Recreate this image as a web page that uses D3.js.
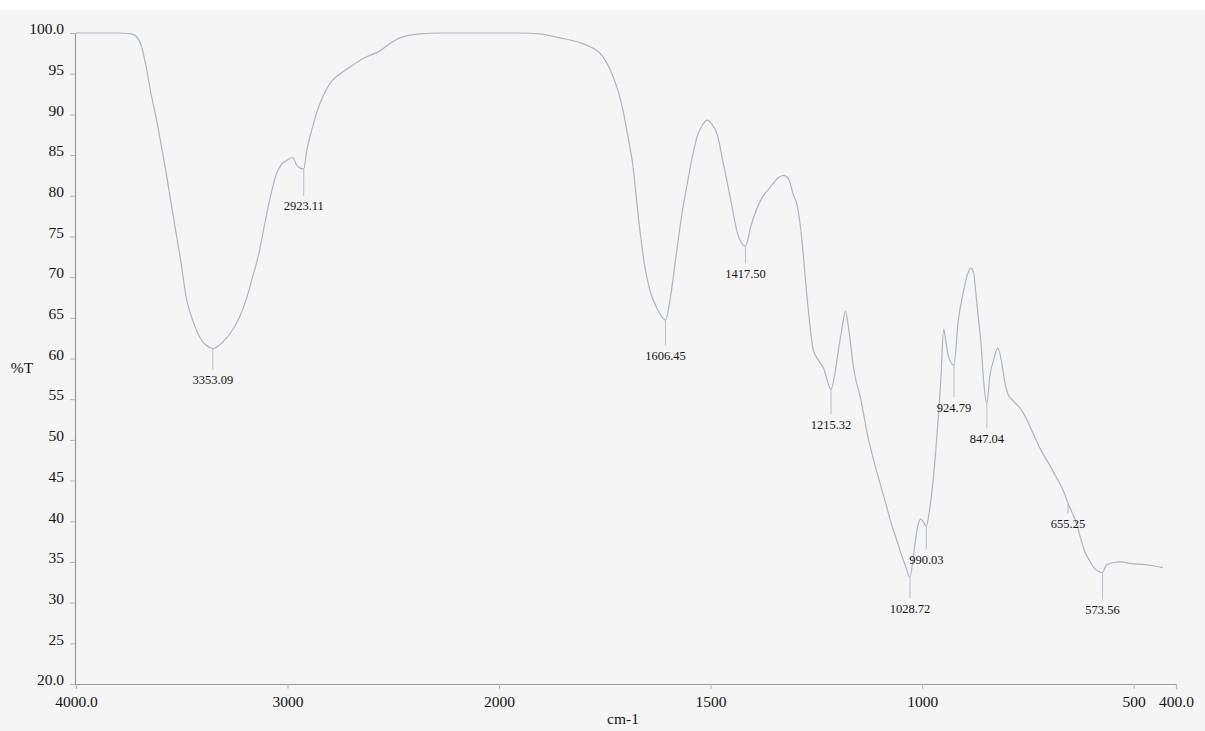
<!DOCTYPE html>
<html>
<head>
<meta charset="utf-8">
<script src="https://cdn.jsdelivr.net/npm/d3@7"></script>
<style>
  html, body { margin: 0; padding: 0; background: #ffffff; }
  svg { display: block; }
  text { font-family: "Liberation Serif", "Times New Roman", serif; fill: #141414; }
</style>
</head>
<body>
<svg id="chart" width="1205" height="731"></svg>
<script>
// IR transmittance spectrum: wavenumber (cm-1) against %T
const wavenumber = [
  4000, 3800, 3740, 3716, 3692, 3668, 3645, 3621, 3597, 3573, 3550, 3526, 3500, 3479, 3455, 3431,
  3400, 3370, 3353.09, 3320, 3289, 3258, 3228, 3196, 3166, 3133, 3108, 3085, 3052, 3030, 3005, 2976,
  2957, 2940, 2923.11, 2910, 2882, 2858, 2834, 2787, 2750, 2706, 2640, 2564, 2510, 2469, 2375, 2280,
  2100, 2000, 1950, 1903, 1856, 1808, 1780, 1761, 1745, 1730, 1718, 1707, 1695, 1683, 1675, 1666,
  1655, 1643, 1625, 1606.45, 1595, 1579, 1567, 1555, 1543, 1531, 1519, 1508, 1497, 1484, 1472, 1460,
  1448, 1437, 1427, 1417.50, 1405, 1382, 1360, 1340, 1328, 1315, 1305, 1294, 1285, 1271, 1257, 1245,
  1233, 1215.32, 1205, 1198, 1190, 1181, 1172, 1162, 1145, 1129, 1113, 1098, 1085, 1074, 1062, 1051,
  1040, 1028.72, 1020, 1010, 1003, 996, 990.03, 983, 975, 968, 960, 956, 949, 945, 938, 924.79,
  915, 902, 893, 885, 878, 873, 866, 861, 855, 847.04, 840, 830, 821, 812, 805, 797,
  785, 767, 750, 736, 720, 703, 685, 665, 655.25, 645, 636, 627, 617, 605, 594, 585,
  573.56, 565, 550, 530, 506, 480, 450, 431
];
const transmittance = [
  100, 100, 99.9, 99.6, 98.5, 95.8, 92.5, 89.6, 86.2, 82.7, 79.0, 75.3, 71.2, 67.5, 65.2, 63.5,
  62.0, 61.4, 61.2, 61.7, 62.5, 63.6, 65.0, 67.2, 69.9, 73.2, 76.5, 79.4, 82.7, 83.8, 84.3, 84.7,
  83.8, 83.4, 83.3, 85.4, 88.4, 90.5, 92.1, 94.2, 95.0, 95.8, 96.9, 97.8, 98.8, 99.4, 99.9, 100,
  100, 100, 100, 99.9, 99.4, 98.8, 98.2, 97.5, 96.3, 94.6, 92.8, 90.5, 87.2, 83.5, 79.5, 75.3,
  71.2, 68.3, 66.0, 64.7, 67.5, 73.6, 78.0, 81.5, 84.8, 87.4, 88.7, 89.3, 88.8, 87.5, 84.5, 81.5,
  78.3, 75.5, 74.2, 73.8, 76.2, 79.4, 81.0, 82.2, 82.5, 82.0, 80.2, 78.5, 75.0, 67.0, 61.0, 59.8,
  58.8, 56.2, 58.5, 61.0, 63.5, 65.8, 63.0, 58.8, 55.0, 50.6, 47.2, 44.4, 42.0, 39.9, 38.0, 36.2,
  34.6, 33.1, 36.0, 39.5, 40.3, 39.8, 39.4, 41.2, 44.5, 48.5, 54.0, 57.2, 63.6, 62.5, 60.3, 59.2,
  64.5, 68.3, 70.3, 71.1, 70.5, 68.0, 64.5, 62.0, 57.5, 54.5, 57.8, 60.0, 61.3, 59.5, 57.2, 55.6,
  54.8, 53.8, 52.2, 50.6, 48.8, 47.3, 45.6, 43.6, 42.2, 41.0, 39.9, 38.2, 36.5, 35.2, 34.3, 33.9,
  33.7, 34.6, 34.9, 35.0, 34.8, 34.7, 34.5, 34.3
];

// Annotated band positions (cm-1) and their printed labels
const peakWavenumber = [3353.09, 2923.11, 1606.45, 1417.50, 1215.32, 924.79, 847.04, 990.03, 1028.72, 655.25, 573.56];
const peakLabel = ["3353.09", "2923.11", "1606.45", "1417.50", "1215.32", "924.79", "847.04", "990.03", "1028.72", "655.25", "573.56"];

// Axis ticks
const yTicks = [100, 95, 90, 85, 80, 75, 70, 65, 60, 55, 50, 45, 40, 35, 30, 25, 20];
const yTickLabels = ["100.0", "95", "90", "85", "80", "75", "70", "65", "60", "55", "50", "45", "40", "35", "30", "25", "20.0"];
const xTicks = [4000, 3000, 2000, 1500, 1000, 500, 400];
const xTickLabels = ["4000.0", "3000", "2000", "1500", "1000", "500", "400.0"];

// Layout: vertical gap from each band to the centre of its label (px)
const labelGap = [31, 37, 35, 27, 35, 42, 35, 33, 31, 20, 37];

const svg = d3.select("#chart");
const W = 1205, H = 731;
const plotLeft = 75, plotRight = 1176, plotTop = 33, plotBottom = 684;
const axisFont = 15.5, bandFont = 12.5;

// Background: off-white plot sheet with a white strip along the top edge
svg.append("rect").attr("x", 0).attr("y", 0).attr("width", W).attr("height", H).attr("fill", "#f5f5f5");
svg.append("rect").attr("x", 0).attr("y", 0).attr("width", W).attr("height", 10).attr("fill", "#ffffff");

// Wavenumber axis changes scale at 2000 cm-1 (expanded fingerprint region)
const x = d3.scaleLinear().domain([4000, 2000, 400]).range([plotLeft + 1, 499, plotRight]);
const y = d3.scaleLinear().domain([20, 100]).range([plotBottom, plotTop]);

const points = wavenumber.map((w, i) => ({ w, t: transmittance[i] }));

// Axes
const yAxis = d3.axisLeft(y).tickValues(yTicks).tickSize(5).tickFormat((d, i) => yTickLabels[i]);
const gy = svg.append("g").attr("transform", `translate(${plotLeft},0)`).call(yAxis);
gy.select(".domain").attr("stroke", "#9a9a9a").attr("stroke-width", 1.2);
gy.selectAll(".tick line").attr("stroke", "#b5b5b5");
gy.selectAll(".tick text").attr("x", -11).attr("dy", "0.05em")
  .attr("font-size", axisFont).attr("font-family", "Liberation Serif").attr("fill", "#141414");

const xAxis = d3.axisBottom(x).tickValues(xTicks).tickSize(5).tickFormat((d, i) => xTickLabels[i]);
const gx = svg.append("g").attr("transform", `translate(0,${plotBottom})`).call(xAxis);
gx.select(".domain").attr("stroke", "#9a9a9a").attr("stroke-width", 1.2);
gx.selectAll(".tick line").attr("stroke", "#b5b5b5");
gx.selectAll(".tick text").attr("y", 12)
  .attr("font-size", axisFont).attr("font-family", "Liberation Serif").attr("fill", "#141414");

// Axis titles
svg.append("text").attr("x", 22).attr("y", 373).attr("text-anchor", "middle")
  .attr("font-size", axisFont).text("%T");
svg.append("text").attr("x", 623).attr("y", 724).attr("text-anchor", "middle")
  .attr("font-size", axisFont).text("cm-1");

// Spectrum trace
const line = d3.line().x(d => x(d.w)).y(d => y(d.t)).curve(d3.curveMonotoneX);
svg.append("path").datum(points)
  .attr("d", line)
  .attr("fill", "none")
  .attr("stroke", "#aab6c2")
  .attr("stroke-width", 1.2);

// Band markers: short vertical stick from the trace with the wavenumber beneath
peakWavenumber.forEach((w, i) => {
  const idx = wavenumber.indexOf(w);
  const t = transmittance[idx];
  const px = x(w), py = y(t);
  const labelY = py + labelGap[i];
  svg.append("line")
    .attr("x1", px).attr("x2", px)
    .attr("y1", py).attr("y2", labelY - 10)
    .attr("stroke", "#b4bec8").attr("stroke-width", 1);
  svg.append("text")
    .attr("x", px).attr("y", labelY + 4.5)
    .attr("text-anchor", "middle")
    .attr("font-size", bandFont)
    .text(peakLabel[i]);
});
</script>
</body>
</html>
